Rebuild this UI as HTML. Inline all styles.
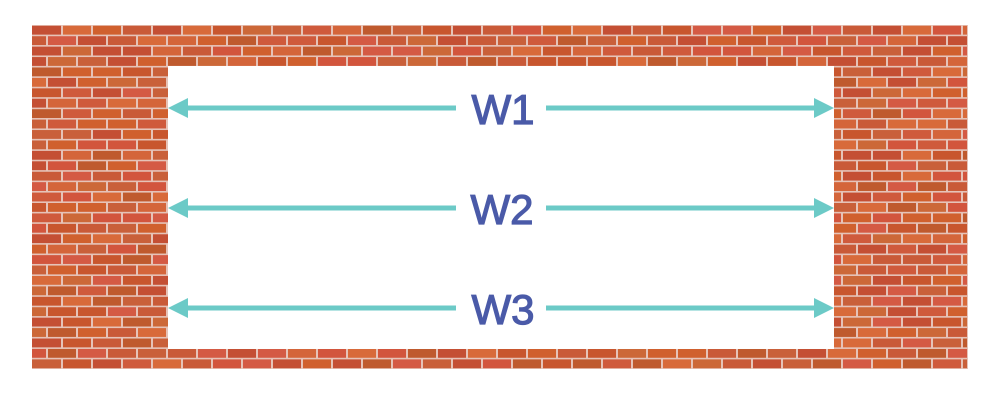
<!DOCTYPE html>
<html><head><meta charset="utf-8"><style>
html,body{margin:0;padding:0;background:#fff;width:1000px;height:400px;overflow:hidden}
svg{display:block}
text{font-family:"Liberation Sans",sans-serif;font-weight:normal;fill:#4a5aa8;stroke:#4a5aa8;stroke-width:1.2;font-size:42px}
</style></head><body>
<svg id="s" width="1000" height="400" xmlns="http://www.w3.org/2000/svg">
<rect x="32" y="25" width="936" height="344" fill="#e6c3b8"/>
<g id="b"></g>
<rect x="168" y="66" width="666" height="283" fill="#fff"/>
<g fill="#6ccac7" stroke="none">
<rect x="186" y="105.5" width="270" height="5"/><rect x="546" y="105.5" width="270" height="5"/>
<polygon points="168,108 188,98 188,118"/><polygon points="834,108 814,98 814,118"/>
<rect x="186" y="205.5" width="270" height="5"/><rect x="546" y="205.5" width="270" height="5"/>
<polygon points="168,208 188,198 188,218"/><polygon points="834,208 814,198 814,218"/>
<rect x="186" y="305.5" width="270" height="5"/><rect x="546" y="305.5" width="270" height="5"/>
<polygon points="168,308 188,298 188,318"/><polygon points="834,308 814,298 814,318"/>
</g>
<text x="503" y="124" text-anchor="middle">W1</text>
<text x="502" y="224" text-anchor="middle">W2</text>
<text x="503" y="324" text-anchor="middle">W3</text>
</svg>
<script>
var cols=["#c8562e","#d0602e","#c95a38","#d4653a","#cf5a3c","#c44f34","#d86a3a","#c9603a","#d2553d","#bf5a2e","#cc6838","#d45a44"];
var g=document.getElementById('b'),h='',seed=7;
function r(){seed=(seed*9301+49297)%233280;return seed/233280;}
var rh=344/33;
for(var i=0;i<33;i++){var y=25+i*rh;var off=(i%2)?-15:0;
 for(var x=32+off;x<968;x+=30){var x0=Math.max(x,32),x1=Math.min(x+30,968);
  h+='<rect x="'+(x0+(x0==32?0:1))+'" y="'+(y+0.8).toFixed(2)+'" width="'+(x1-x0-(x0==32?1:2)).toFixed(1)+'" height="'+(rh-1.6).toFixed(2)+'" fill="'+cols[Math.floor(r()*cols.length)]+'"/>';}}
g.innerHTML=h;
</script>
</body></html>
